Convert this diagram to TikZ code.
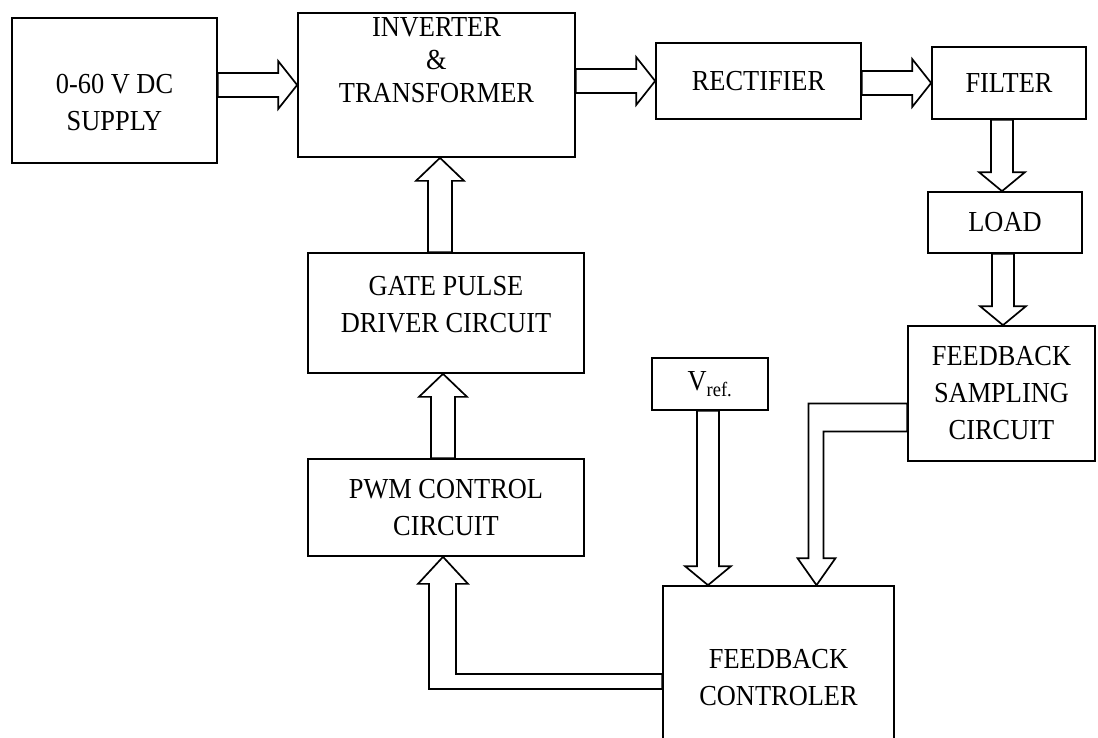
\documentclass[tikz,border=0pt]{standalone}
\usepackage{fontspec}
\setmainfont{Liberation Serif}[FakeStretch=0.91]
\usetikzlibrary{calc}

\newcommand{\fatright}[2]{%
\draw[fat] let \p1=(#1.east), \p2=(#2.west) in
(\x1,\y2+12pt)--(\x2-19pt,\y2+12pt)--(\x2-19pt,\y2+24pt)--(\p2)--%
(\x2-19pt,\y2-24pt)--(\x2-19pt,\y2-12pt)--(\x1,\y2-12pt)--cycle;}

\newcommand{\fatdown}[3][0]{%
\draw[fat] let \p1=($(#2.south)+(#1,0)$), \p2=(#3.north) in
(\x1-11pt,\y1)--(\x1-11pt,\y2+19pt)--(\x1-23pt,\y2+19pt)--(\x1,\y2)--%
(\x1+23pt,\y2+19pt)--(\x1+11pt,\y2+19pt)--(\x1+11pt,\y1)--cycle;}

\newcommand{\fatup}[3][0]{%
\draw[fat] let \p1=($(#2.north)+(#1,0)$), \p2=(#3.south) in
(\x1-12pt,\y1)--(\x1-12pt,\y2-23pt)--(\x1-24pt,\y2-23pt)--(\x1,\y2)--%
(\x1+24pt,\y2-23pt)--(\x1+12pt,\y2-23pt)--(\x1+12pt,\y1)--cycle;}

\begin{document}
\begin{tikzpicture}[x=1pt,y=-1pt,line width=1.7pt,
  box/.style={draw,rectangle,inner sep=0pt,align=center,
    font=\fontsize{29}{37}\selectfont},
  txt/.style={inner sep=0pt,align=center,font=\fontsize{29}{37}\selectfont},
  fat/.style={line join=miter}]
\useasboundingbox (0,0) rectangle (1098,737);
\clip (0,0) rectangle (1098,737);

% power path
\node[box,minimum width=205pt,minimum height=145pt] (supply) at (114.5,90.5) {};
\node[txt] (supply-txt) at (114.5,102.5) {0-60 V DC\\SUPPLY};
\node[box,minimum width=277pt,minimum height=144pt] (inv) at (436.5,85) {};
\node[txt,font=\fontsize{29}{33}\selectfont] (inv-txt) at (436.5,60)
  {INVERTER\\\&\\TRANSFORMER};
\node[box,minimum width=205pt,minimum height=76pt] (rect) at (758.5,81) {RECTIFIER};
\node[box,minimum width=154pt,minimum height=72pt] (filter) at (1009,83) {FILTER};
\node[box,minimum width=154pt,minimum height=61pt] (load) at (1005,222.5) {LOAD};
\node[box,minimum width=187pt,minimum height=135pt] (samp) at (1001.5,393.5)
  {FEEDBACK\\SAMPLING\\CIRCUIT};

% control path
\node[box,minimum width=116pt,minimum height=52pt] (vref) at (710,384)
  {V\textsubscript{ref.}};
\node[box,minimum width=231pt,minimum height=184pt] (ctrl) at (778.5,678)
  {FEEDBACK\\CONTROLER};
\node[box,minimum width=276pt,minimum height=120pt] (gate) at (446,313) {};
\node[txt] (gate-txt) at (446,305) {GATE PULSE\\DRIVER CIRCUIT};
\node[box,minimum width=276pt,minimum height=97pt] (pwm) at (446,507.5)
  {PWM CONTROL\\CIRCUIT};

\fatright{supply}{inv}
\fatright{inv}{rect}
\fatright{rect}{filter}
\fatdown[-7]{filter}{load}
\fatdown[-2]{load}{samp}
\fatdown[-2]{vref}{ctrl}
\fatup[-6]{gate}{inv}
\fatup[-3]{pwm}{gate}

% sampled voltage into the controller
\draw[fat] let \p1=(samp.west), \p2=($(ctrl.north)+(38,0)$) in
(\x1,\y1-10pt)--(\x2-8pt,\y1-10pt)--(\x2-8pt,\y2+27pt)--(\x2-19pt,\y2+27pt)--%
(\p2)--(\x2+19pt,\y2+27pt)--(\x2+7pt,\y2+27pt)--(\x2+7pt,\y1-38pt)--%
(\x1,\y1-38pt)--cycle;

% controller output back to the pwm stage
\draw[fat] let \p1=(ctrl.west), \p2=($(pwm.south)+(-3,0)$) in
(\x1,\y1+4pt)--(\x2+13pt,\y1+4pt)--(\x2+13pt,\y2-27pt)--(\x2+25pt,\y2-27pt)--%
(\p2)--(\x2-25pt,\y2-27pt)--(\x2-14pt,\y2-27pt)--(\x2-14pt,\y1-11pt)--%
(\x1,\y1-11pt)--cycle;
\end{tikzpicture}
\end{document}
